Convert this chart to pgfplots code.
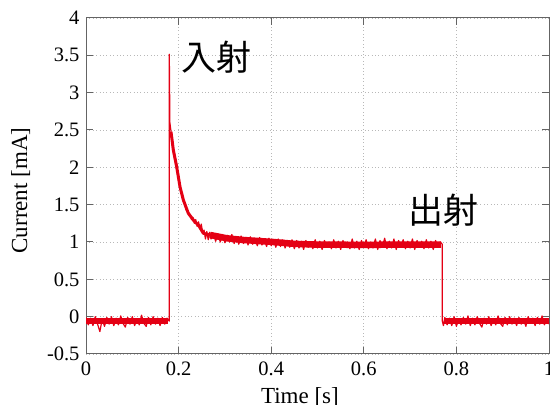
\documentclass[border=0pt]{standalone}
\usepackage{pgfplots}
\pgfplotsset{compat=1.18}
\usepackage{fontspec}
\setmainfont{Liberation Serif}
\newfontfamily\jp{Noto Sans CJK JP}

\definecolor{sig}{RGB}{228,0,20}
\definecolor{frame}{RGB}{100,100,100}

\begin{document}
\begin{tikzpicture}
\begin{axis}[
    name=ax,
    scale only axis,
    width=463pt, height=336pt,
    xmin=0, xmax=1,
    ymin=-0.5, ymax=4,
    xtick={0,0.2,0.4,0.6,0.8,1},
    ytick={-0.5,0,0.5,1,1.5,2,2.5,3,3.5,4},
    tick align=inside,
    major tick length=7pt,
    axis line style={frame, line width=1pt},
    tick style={frame, line width=1pt},
    grid=major,
    grid style={black!28, line width=0.8pt, dash pattern=on 0.8pt off 2.6pt},
    /pgf/number format/assume math mode=true,
    ticklabel style={font=\fontsize{20.5}{22}\selectfont},
    xticklabel style={yshift=-4pt},
    yticklabel style={xshift=-3pt},
    xlabel={Time [s]},
    ylabel={Current [mA]},
    label style={font=\fontsize{23}{25}\selectfont},
    xlabel style={at={(axis description cs:0.462,-0.1488)}, anchor=base},
    ylabel style={at={(axis description cs:-0.1270,0.4866)}, anchor=base},
]

% mean level (fills the noise band)
\addplot[sig, line width=6.5pt, line join=round] coordinates {
    (0,-0.06)(0.177,-0.06)
};
\addplot[sig, line width=3pt, line join=round] coordinates {
    (0.1836,2.477)(0.1886,2.232)(0.1958,2.009)(0.203,1.741)(0.2102,1.563)
    (0.221,1.384)(0.2318,1.295)(0.2426,1.228)(0.2534,1.117)(0.2678,1.094)
};
\addplot[sig, line width=6.5pt, line join=round] coordinates {
    (0.2678,1.094)(0.3039,1.05)(0.3397,1.027)(0.4046,1.0)(0.45,0.975)
    (0.5,0.965)(0.6,0.962)(0.7,0.965)(0.767,0.965)
};
\addplot[sig, line width=6.5pt, line join=round] coordinates {
    (0.773,-0.06)(1,-0.06)
};

% measured trace
\addplot[sig, line width=1.2pt, line join=round] coordinates {
    (0.000,-0.01)(0.005,-0.11)(0.010,-0.02)(0.015,-0.12)(0.020,0.00)
    (0.025,-0.10)(0.030,-0.20)(0.035,-0.03)(0.040,-0.13)(0.045,-0.01)
    (0.050,-0.10)(0.055,0.00)(0.060,-0.12)(0.065,-0.02)(0.070,-0.11)
    (0.075,0.01)(0.080,-0.09)(0.085,-0.14)(0.090,-0.01)(0.095,-0.10)
    (0.100,0.00)(0.105,-0.12)(0.110,-0.03)(0.115,-0.11)(0.120,0.02)
    (0.125,-0.09)(0.130,-0.13)(0.135,-0.01)(0.140,-0.11)(0.145,0.00)
    (0.150,-0.10)(0.155,-0.02)(0.160,-0.12)(0.165,-0.01)(0.170,-0.10)
    (0.175,-0.02)(0.1799,-0.06)
    (0.1799,3.514)(0.1812,2.60)
    (0.1836,2.48)(0.1860,2.34)(0.1886,2.27)(0.1910,2.13)(0.1935,2.11)
    (0.1958,1.97)(0.1990,1.93)(0.2030,1.74)(0.2060,1.68)(0.2100,1.55)
    (0.2130,1.51)(0.2160,1.43)(0.2190,1.42)(0.2220,1.36)(0.2250,1.37)
    (0.2280,1.30)(0.2310,1.33)(0.2340,1.25)(0.2370,1.30)(0.2400,1.21)
    (0.2430,1.27)(0.2460,1.18)(0.2490,1.24)(0.2520,1.12)(0.2550,1.16)
    (0.2580,1.04)(0.2610,1.14)(0.2640,1.03)(0.2670,1.13)(0.2700,1.04)
    (0.275,1.12)(0.280,1.01)(0.285,1.11)(0.290,1.00)(0.295,1.10)
    (0.300,0.99)(0.305,1.09)(0.310,1.00)(0.315,1.10)(0.320,0.98)
    (0.325,1.07)(0.330,0.97)(0.335,1.08)(0.340,0.98)(0.345,1.06)
    (0.350,0.96)(0.355,1.07)(0.360,0.97)(0.365,1.05)(0.370,0.95)
    (0.375,1.06)(0.380,0.96)(0.385,1.04)(0.390,0.94)(0.395,1.05)
    (0.400,0.95)(0.405,1.03)(0.410,0.93)(0.415,1.04)(0.420,0.94)
    (0.425,1.03)(0.430,0.92)(0.435,1.02)(0.440,0.93)(0.445,1.03)
    (0.450,0.91)(0.455,1.02)(0.460,0.92)(0.465,1.01)(0.470,0.90)
    (0.475,1.02)(0.480,0.93)(0.485,1.00)(0.490,0.91)(0.495,1.03)
    (0.500,0.92)(0.505,1.01)(0.510,0.90)(0.515,1.02)(0.520,0.93)
    (0.525,1.00)(0.530,0.91)(0.535,1.03)(0.540,0.92)(0.545,1.01)
    (0.550,0.90)(0.555,1.02)(0.560,0.93)(0.565,1.00)(0.570,0.91)
    (0.575,1.04)(0.580,0.92)(0.585,1.01)(0.590,0.90)(0.595,1.02)
    (0.600,0.93)(0.605,1.03)(0.610,0.91)(0.615,1.00)(0.620,0.92)
    (0.625,1.04)(0.630,0.90)(0.635,1.02)(0.640,0.93)(0.645,1.05)
    (0.650,0.91)(0.655,1.01)(0.660,0.92)(0.665,1.04)(0.670,0.90)
    (0.675,1.02)(0.680,0.93)(0.685,1.03)(0.690,0.91)(0.695,1.01)
    (0.700,0.92)(0.705,1.04)(0.710,0.90)(0.715,1.02)(0.720,0.93)
    (0.725,1.01)(0.730,0.91)(0.735,1.03)(0.740,0.92)(0.745,1.01)
    (0.750,0.90)(0.755,1.02)(0.760,0.93)(0.765,1.00)
    (0.7696,0.97)(0.7696,-0.06)
    (0.772,-0.12)(0.775,-0.01)(0.780,-0.11)(0.785,-0.02)(0.790,-0.12)
    (0.795,0.00)(0.800,-0.13)(0.805,-0.03)(0.810,-0.11)(0.815,-0.01)
    (0.820,-0.10)(0.825,0.01)(0.830,-0.12)(0.835,-0.02)(0.840,-0.11)
    (0.845,0.00)(0.850,-0.09)(0.855,-0.14)(0.860,-0.02)(0.865,-0.10)
    (0.870,0.00)(0.875,-0.12)(0.880,-0.03)(0.885,-0.11)(0.890,0.01)
    (0.895,-0.09)(0.900,-0.13)(0.905,-0.01)(0.910,-0.11)(0.915,0.00)
    (0.920,-0.10)(0.925,-0.02)(0.930,-0.12)(0.935,-0.01)(0.940,-0.10)
    (0.945,-0.03)(0.950,-0.13)(0.955,0.00)(0.960,-0.09)(0.965,-0.02)
    (0.970,-0.12)(0.975,-0.01)(0.980,-0.10)(0.985,0.01)(0.990,-0.11)
    (0.995,-0.03)(1.000,-0.10)
};

\node[font=\jp\fontsize{35}{35}\selectfont, inner sep=0pt] at (axis cs:0.2823,3.48) {入射};
\node[font=\jp\fontsize{35}{35}\selectfont, inner sep=0pt] at (axis cs:0.7717,1.43) {出射};
\end{axis}
\pgfresetboundingbox
\path[use as bounding box] ([xshift=-86pt,yshift=-51pt]ax.south west) rectangle ([xshift=1pt,yshift=18pt]ax.north east);
\end{tikzpicture}
\end{document}
